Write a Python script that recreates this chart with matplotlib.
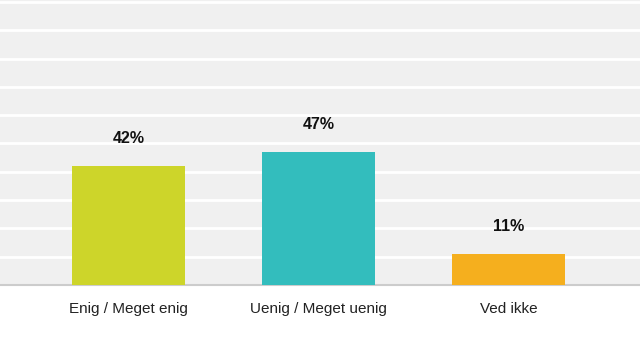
import numpy as np
import matplotlib.pyplot as plt

categories = ['Enig / Meget enig', 'Uenig / Meget uenig', 'Ved ikke']
values = [42, 47, 11]
colors = ['#CDD52A', '#33BDBD', '#F5AF1E']

plt.rcParams['font.family'] = ['Liberation Sans', 'DejaVu Sans']

fig = plt.figure(figsize=(6.4, 3.56), dpi=100)
ax = fig.add_axes([0, 1 - 285 / 356, 1, 285 / 356])
ax.set_facecolor('#F0F0F0')

x = np.arange(len(categories))
bars = ax.bar(x, values, width=0.595, color=colors, zorder=3)

# percentage labels above the bars
for rect, v in zip(bars, values):
    ax.annotate(f'{v}%', (rect.get_x() + rect.get_width() / 2, rect.get_height()),
                xytext=(0, 20), textcoords='offset points',
                ha='center', va='center', fontsize=11.5, fontweight='bold',
                color='#111111')

ax.set_xlim(-0.676, 2.692)
ax.set_ylim(0, 100.7)
ax.set_yticks(np.arange(10, 101, 10))
ax.yaxis.grid(True, color='white', linewidth=2)
ax.set_axisbelow(True)
ax.tick_params(axis='y', left=False, labelleft=False)
ax.set_xticks(x)
ax.set_xticklabels(categories, fontsize=11, color='#222222')
ax.tick_params(axis='x', length=0, pad=12.5)

for s in ['top', 'left', 'right']:
    ax.spines[s].set_visible(False)
ax.spines['bottom'].set_color('#CCCCCC')
ax.spines['bottom'].set_linewidth(1.5)

fig.savefig('out.png', dpi=100)
